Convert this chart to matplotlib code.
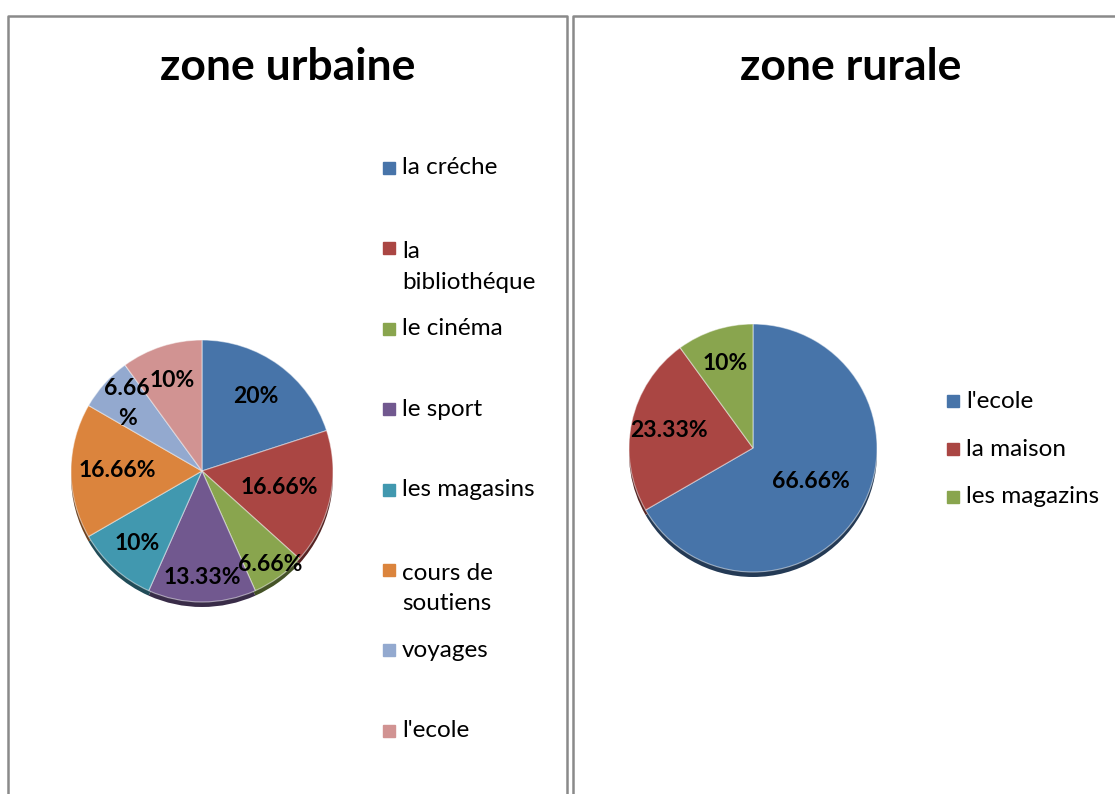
import matplotlib
matplotlib.use("Agg")
import matplotlib.pyplot as plt
from matplotlib.lines import Line2D
import numpy as np

# urban zone
urb_labels = ["la créche", "la\nbibliothéque", "le cinéma", "le sport",
              "les magasins", "cours de\nsoutiens", "voyages", "l'ecole"]
urb_values = [20, 16.66, 6.66, 13.33, 10, 16.66, 6.66, 10]
urb_text = ["20%", "16.66%", "6.66%", "13.33%", "10%", "16.66%", "6.66\n%", "10%"]
urb_colors = ["#4774A9", "#AA4643", "#89A54E", "#71588F",
              "#4198AF", "#DB843D", "#93A9CF", "#D19392"]

# rural zone
rur_labels = ["l'ecole", "la maison", "les magazins"]
rur_values = [66.66, 23.33, 10]
rur_text = ["66.66%", "23.33%", "10%"]
rur_colors = ["#4774A9", "#AA4643", "#89A54E"]

# label radius (fraction of pie radius), mimics excel best fit
urb_lab_r = [0.70, 0.60, 0.88, 0.81, 0.74, 0.65, 0.77, 0.73]
rur_lab_r = [0.54, 0.69, 0.72]

FONT = "Lato"
W, H = 1115, 794
fig = plt.figure(figsize=(W / 100, H / 100), dpi=100)
fig.patch.set_facecolor("white")


def px(x, y):
    return x / W, 1 - y / H


def darker(c, f=0.5):
    r, g, b = matplotlib.colors.to_rgb(c)
    return (r * f, g * f, b * f)


def draw_pie(cx, cy, R, values, colors, texts, lab_r):
    half = 150
    ax = fig.add_axes([(cx - half) / W, 1 - (cy + half) / H, 2 * half / W, 2 * half / H])
    lim = half / R
    depth = 5 / R
    # 3d rim
    ax.pie(values, colors=[darker(c) for c in colors], startangle=90, counterclock=False,
           center=(0, -depth), radius=1, frame=True,
           wedgeprops=dict(linewidth=0))
    wedges, _ = ax.pie(values, colors=colors, startangle=90, counterclock=False,
                       radius=1, frame=True,
                       wedgeprops=dict(linewidth=0.8, edgecolor=(1, 1, 1, 0.5)))
    ax.set_xlim(-lim, lim)
    ax.set_ylim(-lim, lim)
    ax.set_aspect("equal")
    ax.axis("off")
    for w, t, r in zip(wedges, texts, lab_r):
        a = np.deg2rad((w.theta1 + w.theta2) / 2)
        ax.text(r * np.cos(a), r * np.sin(a), t, ha="center", va="center",
                fontsize=16.5, fontweight="bold", family=FONT, color="black",
                linespacing=1.5)


draw_pie(202, 471, 131, urb_values, urb_colors, urb_text, urb_lab_r)
draw_pie(753, 448, 124, rur_values, rur_colors, rur_text, rur_lab_r)

# panel borders
bc = "#8a8a8a"
for xs, ys in [([8, 8, 567, 567], [800, 16, 16, 800]),
               ([573, 573, 1120], [800, 16, 16])]:
    fx = [x / W for x in xs]
    fy = [1 - y / H for y in ys]
    fig.add_artist(Line2D(fx, fy, color=bc, lw=1.8, transform=fig.transFigure))

# titles
fig.text(*px(288, 67), "zone urbaine", ha="center", va="center",
         fontsize=32, fontweight="bold", family=FONT)
fig.text(*px(851, 67), "zone rurale", ha="center", va="center",
         fontsize=32, fontweight="bold", family=FONT)

# legends
for i, (lab, col) in enumerate(zip(urb_labels, urb_colors)):
    y = 168 + i * 80.4
    fig.add_artist(plt.Rectangle(px(383, y + 6), 12 / W, 12 / H, color=col,
                                 transform=fig.transFigure))
    if "\n" in lab:
        fig.text(*px(402, y - 7), lab, ha="left", va="top",
                 fontsize=17.5, family=FONT, linespacing=1.55)
    else:
        fig.text(*px(402, y), lab, ha="left", va="center", fontsize=17.5, family=FONT)

for i, (lab, col) in enumerate(zip(rur_labels, rur_colors)):
    y = 401 + i * 48
    fig.add_artist(plt.Rectangle(px(947, y + 6), 12 / W, 12 / H, color=col,
                                 transform=fig.transFigure))
    fig.text(*px(966, y), lab, ha="left", va="center", fontsize=17.5, family=FONT)

fig.savefig("out.png", dpi=100, facecolor="white")
